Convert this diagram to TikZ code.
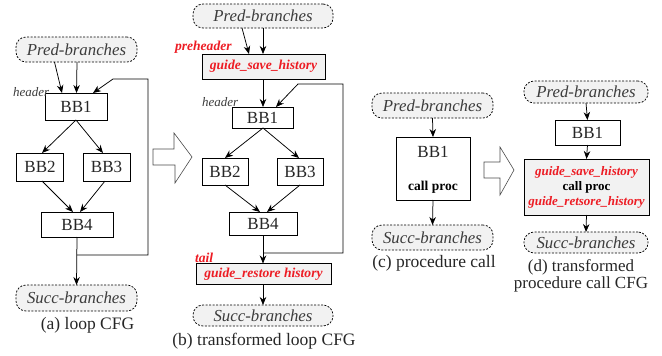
\documentclass[tikz,border=0pt]{standalone}
\usepackage{fontspec}
\setmainfont{Liberation Serif}
\usetikzlibrary{arrows.meta,calc}
\definecolor{gred}{RGB}{237,28,36}
\definecolor{tfill}{RGB}{242,242,242}
\definecolor{tgray}{RGB}{60,60,60}
\begin{document}
\begin{tikzpicture}[x=1pt,y=-1pt,
  every node/.style={inner sep=0pt,outer sep=0pt},
  lw/.style={line width=0.75pt},
  term/.style={lw,draw,dashed,dash pattern=on 2pt off 1.5pt,fill=tfill,rounded corners=10pt,
    font=\fontsize{16.8}{19}\selectfont\itshape,text=tgray,minimum width=121pt,minimum height=25pt},
  bbox/.style={lw,draw,fill=white,font=\fontsize{17}{20}\selectfont,text=black!85},
  gbox/.style={lw,draw,fill=tfill,font=\fontsize{13.6}{15}\selectfont\bfseries\itshape,text=gred},
  rlab/.style={font=\fontsize{13.6}{15}\selectfont\bfseries\itshape,text=gred},
  hlab/.style={font=\fontsize{13}{15}\selectfont\itshape,text=tgray},
  captext/.style={font=\fontsize{17.5}{17.5}\selectfont,text=black!85,align=center},
  capline/.style={font=\fontsize{17}{17}\selectfont,text=black!85,text height=11pt,text depth=3.5pt},
  arr/.style={lw,-{Stealth[length=8pt,width=6.5pt]}},
  hollow/.style={draw=black!70,line width=0.6pt,fill=white}
]
\useasboundingbox (0,0) rectangle (662,356);

% ---------- (a) ----------
\node[term] (pa) at (76.5,49.5) {Pred-branches};
\node[bbox,minimum width=62pt,minimum height=27pt] (bb1a) at (76,106.5) {BB1};
\node[bbox,minimum width=47pt,minimum height=28pt] (bb2a) at (40,167) {BB2};
\node[bbox,minimum width=47pt,minimum height=28pt] (bb3a) at (106.5,167) {BB3};
\node[bbox,minimum width=72pt,minimum height=25pt] (bb4a) at (77,224.5) {BB4};
\node[term,minimum height=26pt] (sa) at (76.5,298) {Succ-branches};
\node[hlab,anchor=west] (ha) at (13,92) {header};
\node[captext] (capa) at (87.5,325) {(a) loop CFG};

\draw[arr] ($(pa.south)+(-22,0)$) -- ($(bb1a.north)+(-14,0)$);
\draw[arr] ($(pa.south)+(0.5,0)$) -- ($(bb1a.north)+(0.5,0)$);
\draw[arr] (bb1a.south) -- ($(bb2a.north)+(2,0)$);
\draw[arr] (bb1a.south) -- ($(bb3a.north)+(-3.5,0)$);
\draw[arr] ($(bb2a.south)+(2,0)$) -- ($(bb4a.north)+(-4,0)$);
\draw[arr] ($(bb3a.south)+(-1.5,0)$) -- ($(bb4a.north)+(3,0)$);
\coordinate (la1) at (77,255);
\coordinate (la2) at (148,255);
\coordinate (la3) at (148,79);
\coordinate (la4) at (113,79);
\draw[arr] (bb4a.south) -- (sa.north);
\draw[arr] (la1) -- (la2) -- (la3) -- (la4) -- ($(bb1a.north)+(17,0)$);

% hollow arrow 1
\draw[hollow] (153,149) -- (174,149) -- (174,133) -- (192,157) -- (175,183) -- (175,165) -- (153,165) -- cycle;

% ---------- (b) ----------
\node[term,minimum width=140pt,minimum height=24pt] (pb) at (263,16) {Pred-branches};
\node[rlab,anchor=west] (preh) at (175,47) {preheader};
\node[gbox,minimum width=123pt,minimum height=25pt] (gsave) at (263.5,66.5) {guide\_save\_history};
\node[hlab,anchor=west] (hb) at (202,102) {header};
\node[bbox,minimum width=61pt,minimum height=21pt] (bb1b) at (262.5,117.5) {BB1};
\node[bbox,minimum width=46pt,minimum height=27pt] (bb2b) at (225,171.5) {BB2};
\node[bbox,minimum width=46pt,minimum height=27pt] (bb3b) at (300,171.5) {BB3};
\node[bbox,minimum width=68pt,minimum height=23pt] (bb4b) at (263,223.5) {BB4};
\node[rlab,anchor=west] (tail) at (195,258) {tail};
\node[gbox,minimum width=135pt,minimum height=21pt] (grest) at (263.5,274) {guide\_restore history};
\node[term,minimum width=140pt,minimum height=21pt] (sb) at (263,315.5) {Succ-branches};
\node[captext] (capb) at (264,341) {(b) transformed loop CFG};

\draw[arr] ($(pb.south)+(-21,0)$) -- ($(gsave.north)+(-14.5,0)$);
\draw[arr] ($(pb.south)+(0,0)$) -- ($(gsave.north)+(-0.5,0)$);
\draw[arr] ($(gsave.south)+(-0.5,0)$) -- ($(bb1b.north)+(0.5,0)$);
\draw[arr] ($(bb1b.south)+(0.5,0)$) -- (bb2b.north);
\draw[arr] ($(bb1b.south)+(0.5,0)$) -- ($(bb3b.north)+(-1,0)$);
\draw[arr] (bb2b.south) -- ($(bb4b.north)+(-3,0)$);
\draw[arr] (bb3b.south) -- ($(bb4b.north)+(4,0)$);
\coordinate (lb1) at (263,253);
\coordinate (lb2) at (343,253);
\coordinate (lb3) at (343,84);
\coordinate (lb4) at (298,84);
\draw[arr] (bb4b.south) -- ($(grest.north)+(-0.5,0)$);
\draw[arr] (lb1) -- (lb2) -- (lb3) -- (lb4) -- ($(bb1b.north)+(13.5,0)$);
\draw[arr] ($(grest.south)+(-0.5,0)$) -- (sb.north);

% ---------- (c) ----------
\node[term,minimum width=121pt] (pc) at (432.5,105.5) {Pred-branches};
\node[bbox,minimum width=74pt,minimum height=63pt] (bb1c) at (433,168.5) {};
\node[font=\fontsize{17}{20}\selectfont,text=black!85] (bb1ct) at (433,152) {BB1};
\node[font=\fontsize{13.5}{15}\selectfont\bfseries] (cpc) at (433,187) {call proc};
\node[term,minimum width=121pt] (sc) at (432.5,237.5) {Succ-branches};
\node[captext] (capc) at (434,263) {(c) procedure call};
\draw[arr] (pc.south) -- (bb1c.north);
\draw[arr] (bb1c.south) -- (sc.north);

% hollow arrow 2
\draw[hollow] (484,162) -- (500,162) -- (500,147) -- (514,170) -- (500,195) -- (500,178) -- (484,178) -- cycle;

% ---------- (d) ----------
\node[term,minimum width=124pt,minimum height=22pt] (pd) at (586,92) {Pred-branches};
\node[bbox,minimum width=65pt,minimum height=25pt] (bb1d) at (587.5,132.5) {BB1};
\node[lw,draw,fill=tfill,minimum width=125pt,minimum height=56pt,align=center,
  font=\fontsize{13}{15}\selectfont\bfseries] (bigd) at (586.5,187)
  {{\itshape\color{gred}guide\_save\_history}\\call proc\\{\itshape\color{gred}guide\_retsore\_history}};
\node[term,minimum width=124pt,minimum height=21pt] (sd) at (586,242.5) {Succ-branches};
\node[capline] (capd1) at (581,267.5) {(d) transformed};
\node[capline] (capd2) at (581,284.5) {procedure call CFG};
\draw[arr] (pd.south) -- (bb1d.north);
\draw[arr] (bb1d.south) -- (bigd.north);
\draw[arr] (bigd.south) -- (sd.north);
\end{tikzpicture}
\end{document}
